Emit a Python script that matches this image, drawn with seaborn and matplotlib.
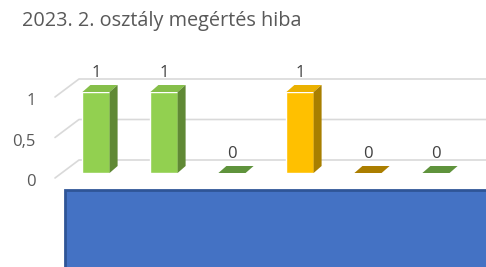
import matplotlib
matplotlib.use("Agg")
import matplotlib.pyplot as plt
import seaborn as sns
import pandas as pd
import numpy as np
from matplotlib.patches import Polygon, Rectangle
from matplotlib.transforms import IdentityTransform, ScaledTranslation
from matplotlib.colors import to_rgb

# ---- data ----
categories = ["1. feladat", "2. feladat", "3. feladat", "4. feladat", "5. feladat", "6. feladat"]
values = [1, 1, 0, 1, 0, 0]
value_labels = ["1", "1", "0", "1", "0", "0"]
front_colors = ["#92D050", "#92D050", "#70AD47", "#FFC000", "#C99400", "#70AD47"]
y_ticks = [0, 0.5, 1]
y_tick_labels = ["0", "0,5", "1"]
title = "2023. 2. osztály megértés hiba"

W, H = 486, 267
DPI = 100
sns.set_theme(style="white")
plt.rcParams["font.family"] = ["Open Sans", "DejaVu Sans"]

fig = plt.figure(figsize=(W / DPI, H / DPI), dpi=DPI)
# front plane: value 0 at y=173 px, value 1 at y=92 px; x from 62 to 470
left, right = 62, 470
y0px, y1px = 173, 92
ax = fig.add_axes([left / W, (H - y0px) / H, (right - left) / W, (y0px - y1px) / H])

df = pd.DataFrame({"cat": categories, "val": values})
sns.barplot(data=df, x="cat", y="val", hue="cat", palette=front_colors,
            legend=False, width=0.4, saturation=1, ax=ax, zorder=3)
ax.set_xlim(-0.5, len(categories) - 0.5)
ax.set_ylim(0, 1)
ax.set_xlabel("")
ax.set_ylabel("")
for s in ax.spines.values():
    s.set_visible(False)
ax.set_yticks(y_ticks)
ax.set_yticklabels(y_tick_labels, fontsize=12, color="#595959")
ax.tick_params(axis="y", length=0, pad=19)
ax.tick_params(axis="x", length=0, labelsize=9, colors="#595959", pad=45)
ax.patch.set_alpha(0)
for lab in ax.get_yticklabels():
    lab.set_transform(lab.get_transform() + ScaledTranslation(0, -7 / DPI, fig.dpi_scale_trans))

# perspective gridlines (back wall + floor/side slant)
for v in y_ticks:
    _, yd = ax.transData.transform((0, v))
    xs = [left - 7, left + 17, W]
    ys = [yd - 5, yd + 13, yd + 13]
    fig.add_artist(plt.Line2D(xs, ys, transform=IdentityTransform(), color="#D9D9D9", lw=1.2, zorder=0))

# 3D faces of bars
dx, dy = 8, 7
def shade(c, f):
    r, g, b = to_rgb(c)
    return (r * f, g * f, b * f)

for p, c in zip(ax.patches, front_colors):
    x0, yb = p.get_x(), p.get_y()
    x1, yt = x0 + p.get_width(), yb + p.get_height()
    (X0, Yb), (X1, Yt) = ax.transData.transform([(x0, yb), (x1, yt)])
    zero = p.get_height() == 0
    top_col = shade(c, 0.85 if zero else 0.92)
    top = Polygon([(X0, Yt), (X1, Yt), (X1 + dx, Yt + dy), (X0 + dx, Yt + dy)],
                  closed=True, transform=IdentityTransform(), facecolor=top_col,
                  edgecolor="none", zorder=4)
    fig.add_artist(top)
    if not zero:
        side = Polygon([(X1, Yb), (X1, Yt), (X1 + dx, Yt + dy), (X1 + dx, Yb + dy)],
                       closed=True, transform=IdentityTransform(), facecolor=shade(c, 0.66),
                       edgecolor="none", zorder=4)
        fig.add_artist(side)

# data labels
for i, (v, t) in enumerate(zip(values, value_labels)):
    ax.annotate(t, (i, v), xytext=(0, 8), textcoords="offset points", ha="center",
                va="bottom", fontsize=12, color="#404040", annotation_clip=False)

fig.text(22 / W, 1 - 21 / H, title, fontsize=14.3, color="#595959", ha="left", va="center")

# blue box covering the category axis
fig.add_artist(Rectangle((65, -5), W, H - 190 + 5, transform=IdentityTransform(),
                         facecolor="#4472C4", edgecolor="#2F5597", lw=2, zorder=10))

fig.savefig("out.png", dpi=DPI)
